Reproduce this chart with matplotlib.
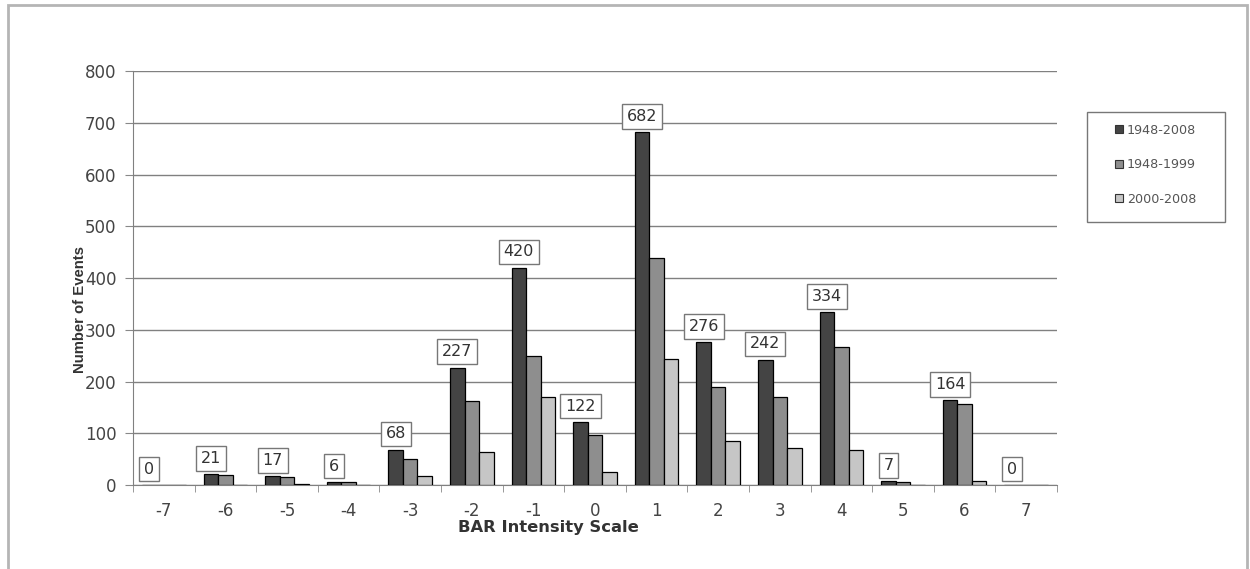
import numpy as np
import matplotlib
matplotlib.use("Agg")
import matplotlib.pyplot as plt
from matplotlib.patches import Rectangle, Patch

# BAR intensity categories
scale = [-7, -6, -5, -4, -3, -2, -1, 0, 1, 2, 3, 4, 5, 6, 7]
all_years = [0, 21, 17, 6, 68, 227, 420, 122, 682, 276, 242, 334, 7, 164, 0]
early = [0, 20, 16, 5, 50, 163, 249, 96, 438, 190, 170, 266, 6, 157, 0]
late = [0, 0, 2, 0, 18, 64, 171, 26, 244, 86, 72, 68, 0, 7, 0]
series_names = ["1948-2008", "1948-1999", "2000-2008"]
colors = ["#444444", "#8e8e8e", "#c6c6c6"]

fig = plt.figure(figsize=(12.5, 5.69), dpi=100)
ax = fig.add_axes([0.1064, 0.1476, 0.7392, 0.7276])

x = np.arange(len(scale))
w = 0.235
for k, vals in enumerate([all_years, early, late]):
    ax.bar(x + (k - 1) * w, vals, width=w, color=colors[k],
           edgecolor="black", linewidth=0.9, zorder=3)

# value labels above the 1948-2008 bars
for xi, v in zip(x, all_years):
    ax.annotate(str(v), (xi - w, v), xytext=(0, 6), textcoords="offset points",
                ha="center", va="bottom", fontsize=11.5, color="#333333", zorder=5,
                bbox=dict(boxstyle="square,pad=0.3", fc="white", ec="#777777", lw=1))

ax.set_xlim(-0.5, len(scale) - 0.5)
ax.set_ylim(0, 800)
ax.set_yticks(np.arange(0, 801, 100))
ax.set_xticks(x)
ax.set_xticklabels([str(s) for s in scale])
ax.set_xticks(np.arange(-0.5, len(scale), 1), minor=True)
ax.tick_params(axis="x", which="major", length=0, pad=12, labelsize=12, labelcolor="#444444")
ax.tick_params(axis="x", which="minor", length=5, color="#888888", direction="out")
ax.tick_params(axis="y", length=6, color="#888888", labelsize=12, labelcolor="#444444", pad=6)

ax.grid(axis="y", color="#808080", linewidth=1, zorder=0)
ax.set_axisbelow(True)
for s in ["top", "right"]:
    ax.spines[s].set_visible(False)
ax.spines["left"].set_color("#808080")
ax.spines["bottom"].set_color("#808080")

ax.set_xlabel("BAR Intensity Scale", fontsize=11.8, fontweight="bold", color="#333333")
ax.xaxis.set_label_coords(0.449, -0.085)
ax.set_ylabel("Number of Events", fontsize=10.7, fontweight="bold", color="#333333",
              family=["Liberation Sans", "DejaVu Sans"])
ax.yaxis.set_label_coords(-0.0495, 0.423)

# legend with its own frame
handles = [Patch(facecolor=c, edgecolor="#333333", linewidth=0.8) for c in colors]
fig.legend(handles, series_names, loc="upper left", bbox_to_anchor=(0.887, 0.794),
           frameon=False, fontsize=9.2, labelcolor="#555555", handlelength=0.6,
           handleheight=0.6, handletextpad=0.3, labelspacing=1.68, borderpad=0)
fig.add_artist(Rectangle((0.8696, 0.6098), 0.1104, 0.1934, transform=fig.transFigure,
                         fill=False, edgecolor="#777777", linewidth=1))

# outer border of the picture
fig.add_artist(Rectangle((0.0064, -0.05), 0.9912, 1.041, transform=fig.transFigure,
                         fill=False, edgecolor="#b5b5b5", linewidth=2))

fig.savefig("out.png", dpi=100)
